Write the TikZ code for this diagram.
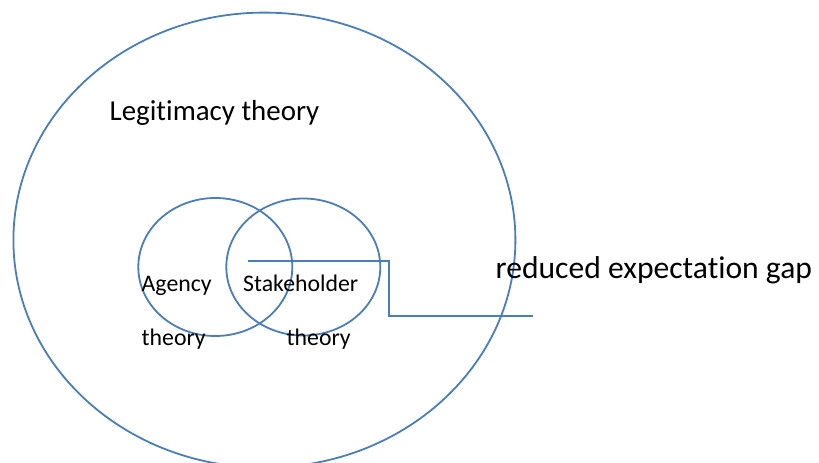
\documentclass[tikz,border=0pt]{standalone}
\usepackage{fontspec}
\setmainfont{Carlito}[Ligatures=NoCommon]
\usetikzlibrary{shapes.geometric}

\definecolor{shapeblue}{RGB}{74,126,187}

\tikzset{
  ring/.style={draw=shapeblue, line width=1.8pt, ellipse, inner sep=0pt},
  label/.style={inner sep=0pt, anchor=base west, font=\fontsize{23.8}{27}\selectfont},
  biglabel/.style={label, font=\fontsize{28.9}{33}\selectfont},
}

\begin{document}
\begin{tikzpicture}[x=1pt,y=1pt,yscale=-1,xscale=1]
\useasboundingbox (0,0) rectangle (819,463);

%Ellipses
\node [ring, minimum width=502pt, minimum height=455pt] (legit) at (264.4,240.1) {};
\node [ring, minimum width=154pt, minimum height=138pt] (agency) at (215.3,267) {};
\node [ring, minimum width=154pt, minimum height=137pt] (stake) at (303.3,267) {};

%Straight Lines
\coordinate (gapstart) at (248.3,260.7);
\coordinate (gapend) at (533.3,315.7);
\draw [draw=shapeblue, line width=1.8pt] (gapstart) -| (388.8,315.7) -- (gapend);

% Text Node
\node [biglabel] (legittext) at (109.5,120) {Legitimacy theory};
% Text Node
\node [biglabel, font=\fontsize{31.6}{36}\selectfont] (gaptext) at (495.5,278.3) {reduced expectation gap};
% Text Node
\node [label] (agencytext) at (141.5,291.7) {Agency};
% Text Node
\node [label] (agencytheory) at (141.5,345) {theory};
% Text Node
\node [label] (staketext) at (243,291.7) {Stakeholder};
% Text Node
\node [label] (staketheory) at (286.5,345) {theory};

\end{tikzpicture}
\end{document}
